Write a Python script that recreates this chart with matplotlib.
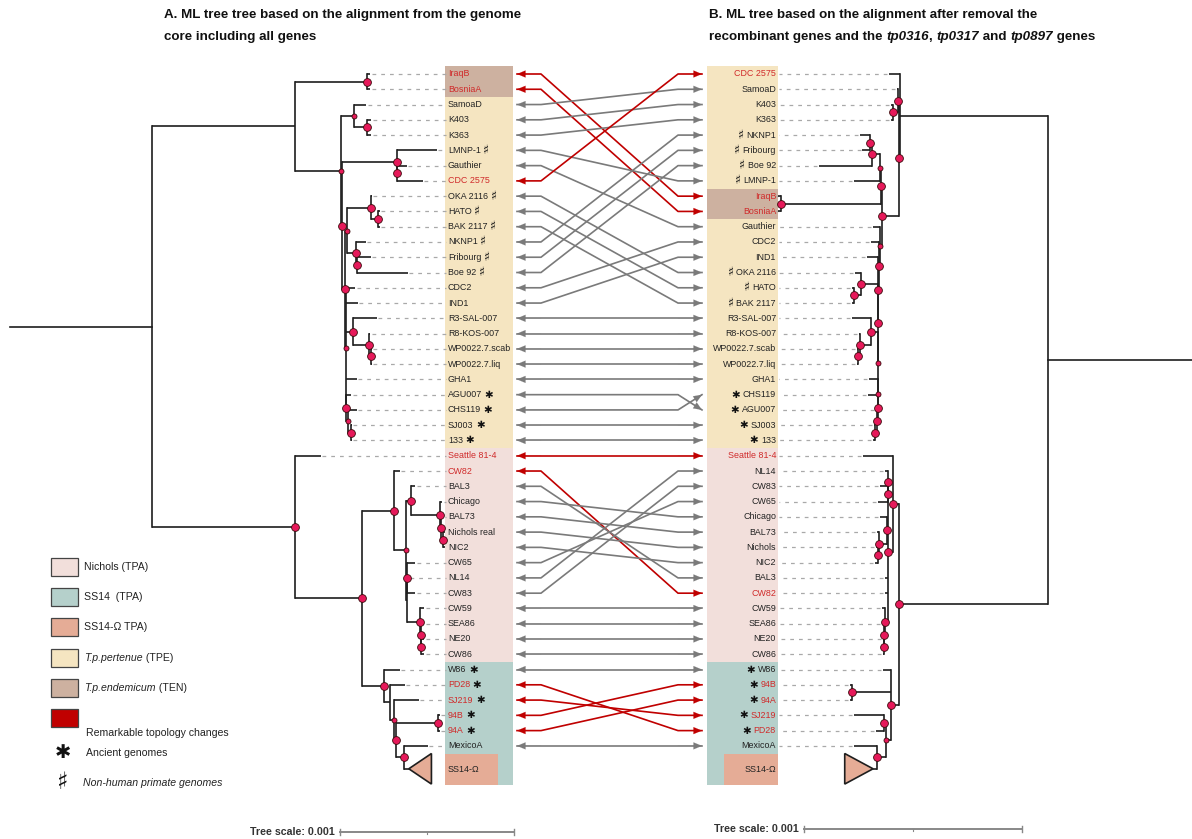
import matplotlib
matplotlib.use("Agg")  # headless
import matplotlib.pyplot as plt
from matplotlib.patches import Rectangle, Polygon

# ---- data ------------------------------------------------------------------
# branch lengths in 1e-5 subs/site (tree scale bar 0.001 = 100 units);
# internal node label = support class (100 -> large dot, 70/80 -> small dot, none -> no dot)
NEWICK_A = (
    "(((IraqB:1.7,BosniaA:1.7)100:41.4,"
    "((SamoaD:6.9,(K403:2.3,K363:2.3)100:7.5)70:7.5,"
    "((LMNP-1:23.0,(Gauthier:5.7,CDC 2575:14.9)100:0.0)100:31.6,"
    "(((OKA 2116:0.6,(HATO:1.1,BAK 2117:1.1)100:4.0)100:13.8,"
    "(NKNP1:5.7,(Fribourg:8.0,Boe 92:29.3)100:0.6)100:5.2)70:1.1,"
    "(CDC2:5.2,IND1:6.9,"
    "(R3-SAL-007:13.8,(R8-KOS-007:0.6,(WP0022.7.scab:0.6,WP0022.7.liq:0.6)100:1.1)100:9.2)100:4.0,"
    "GHA1:6.3,(AGU007:2.9,(CHS119:5.2,(SJ003:0.6,133:0.6)100:1.7)80:1.1)100:0.0)70:0.6"
    ")100:1.7)100:0.6)70:26.4):82.2,"
    "(Seattle 81-4:14.9,("
    "(CW82:3.4,((BAL3:2.3,(Chicago:1.1,(BAL73:1.1,(Nichols:1.1,NIC2:1.1)100:1.1)100:0.6)100:16.7)100:2.9,"
    "((CW65:4.6,NL14:1.1,CW83:4.6)100:0.0,(CW59:2.3,(SEA86:1.7,(NE20:1.7,CW86:1.7)100:0.0)100:0.6)100:7.5):0.6"
    ")70:6.9)100:18.4,"
    "(W86:9.2,(PD28:8.6,(SJ219:14.4,((94B:1.1,94A:1.1)100:24.1,(MexicoA:13.8,SS14-Ω:2.9)100:4.6)100:1.1)70:2.3):3.4)100:12.6"
    ")100:38.5)100:82.2):81.6;"
)
NEWICK_B = (
    "((CDC 2575:5.0,((SamoaD:0.5,(K403:0.9,K363:0.9)100:2.3)100:0.5,"
    "(((((NKNP1:5.0,Fribourg:3.7)100:0.5,Boe 92:24.3)100:3.7,LMNP-1:11.9)70:0.5,"
    "(IraqB:1.4,BosniaA:1.4)100:45.9)100:0.5,"
    "(Gauthier:3.2,(CDC2:3.7,(IND1:5.0,((OKA 2116:2.8,(HATO:0.9,BAK 2117:0.9)100:3.2)100:7.8,"
    "((R3-SAL-007:8.7,(R8-KOS-007:0.5,(WP0022.7.scab:0.5,WP0022.7.liq:0.5)100:0.9)100:5.0)100:3.2,"
    "(GHA1:4.1,(CHS119:4.6,(AGU007:0.5,(SJ003:0.5,133:0.9)100:0.9)100:0.5)100:0.0)70:0.0)70:0.0"
    ")100:0.0)100:0.5)100:0.5)70:0.9)100:7.8)100:0.5):67.9,"
    "((Seattle 81-4:13.8,((NL14:1.4,(CW83:3.7,CW65:4.6)100:0.0)100:0.0,"
    "(Chicago:3.2,(BAL73:0.9,(Nichols:0.9,NIC2:1.4)100:0.5)100:3.7)100:0.5,"
    "BAL3:1.4,CW82:1.4,(CW59:1.4,(SEA86:0.9,(NE20:0.5,CW86:0.5)100:0.0)100:0.5)100:1.4)100:2.3)100:2.8,"
    "(W86:3.7,(94B:0.9,94A:0.9)100:17.9,((SJ219:13.8,PD28:3.7)100:0.9,(MexicoA:10.6,SS14-Ω:1.8)100:4.1)70:2.3)100:3.7"
    ")100:68.3):66.1;"
)
COLLAPSED = {"SS14-Ω": 13.0}          # collapsed clade -> clade depth (units)
SCALE_UNITS = 100                      # 0.001 subs/site
SCALE_LABEL = "Tree scale: 0.001"

TEN_TAXA = ["IraqB", "BosniaA"]
NICHOLS_TAXA = ["Seattle 81-4", "CW82", "BAL3", "Chicago", "BAL73", "Nichols", "NIC2", "CW65",
                "NL14", "CW83", "CW59", "SEA86", "NE20", "CW86"]
SS14_TAXA = ["W86", "PD28", "SJ219", "94B", "94A", "MexicoA"]
ANCIENT = ["AGU007", "CHS119", "SJ003", "133", "W86", "PD28", "SJ219", "94B", "94A"]
NONHUMAN = ["LMNP-1", "OKA 2116", "HATO", "BAK 2117", "NKNP1", "Fribourg", "Boe 92"]
REMARKABLE = ["IraqB", "BosniaA", "CDC 2575", "Seattle 81-4", "CW82", "PD28", "SJ219", "94B", "94A"]
LEFT_DISPLAY = {"Nichols": "Nichols real"}

TITLE_A = ["A. ML tree tree based on the alignment from the genome", "core including all genes"]
TITLE_B1 = "B. ML tree based on the alignment after removal the"
TITLE_B2 = [("recombinant genes and the ", False), ("tp0316", True), (", ", False),
            ("tp0317", True), (" and ", False), ("tp0897", True), (" genes", False)]

LEGEND = [("Nichols (TPA)", None), ("SS14  (TPA)", None), ("SS14-Ω TPA)", None),
          ("T.p.pertenue", " (TPE)"), ("T.p.endemicum", " (TEN)"), ("", None)]

# ---- style -----------------------------------------------------------------
C_TEN, C_TPE, C_NICH, C_SS14, C_OMEGA = "#cdb1a0", "#f5e5c1", "#f2dfdb", "#b5d0cb", "#e5ac96"
RED, LBL_RED, GREY_ARROW = "#c00000", "#d02a2a", "#7a7a7a"
BRANCH = "#1e1e1e"
DOT = "#e6195a"
SANS = ["Liberation Sans", "DejaVu Sans"]
SYM = ["DejaVu Sans"]

W, H = 1192, 839
Y0, ROW = 74.0, 15.27

fig = plt.figure(figsize=(W / 100, H / 100), dpi=100)
ax = fig.add_axes([0, 0, 1, 1])
ax.set_xlim(0, W); ax.set_ylim(H, 0); ax.axis("off")
renderer = fig.canvas.get_renderer()


def parse_newick(s):
    pos = 0

    def read():
        nonlocal pos
        kids = []
        if s[pos] == "(":
            pos += 1
            while True:
                kids.append(read())
                ch = s[pos]; pos += 1
                if ch == ")":
                    break
        start = pos
        while s[pos] not in ":,();":
            pos += 1
        label = s[start:pos]
        length = 0.0
        if s[pos] == ":":
            pos += 1; start = pos
            while s[pos] not in ",();":
                pos += 1
            length = float(s[start:pos])
        return {"label": label, "length": length, "kids": kids}
    return read()


def layout(node, x_parent, px, sign, state):
    node["x"] = x_parent + sign * node["length"] * px
    if node["kids"]:
        for k in node["kids"]:
            layout(k, node["x"], px, sign, state)
        node["y"] = (node["kids"][0]["y"] + node["kids"][-1]["y"]) / 2
    else:
        if node["label"] in COLLAPSED:
            state["i"] += 0.5
        node["y"] = Y0 + state["i"] * ROW
        state["i"] += 1
        state["leaves"].append(node)


def draw_branches(node, dots):
    for k in node["kids"]:
        ax.plot([node["x"], k["x"]], [k["y"], k["y"]], color=BRANCH, lw=1.2, solid_capstyle="butt", zorder=3)
        draw_branches(k, dots)
    if node["kids"]:
        ax.plot([node["x"]] * 2, [node["kids"][0]["y"], node["kids"][-1]["y"]], color=BRANCH, lw=1.2,
                solid_capstyle="projecting", zorder=3)
        if node["label"]:
            dots.append((node["x"], node["y"], 5.6 if node["label"] == "100" else 3.6))


def put_pieces(x, y, pieces, ha="left", **common):
    """pieces: list of (text, dict of text kwargs); laid out side by side from x."""
    seq = pieces if ha == "left" else pieces[::-1]
    cx = x
    for txt, kw in seq:
        t = ax.text(cx, y, txt, ha=ha, va="center", **common, **kw)
        w = t.get_window_extent(renderer).width
        cx = cx + w if ha == "left" else cx - w
    return cx


def group_color(name):
    if name in TEN_TAXA:
        return C_TEN
    if name in NICHOLS_TAXA:
        return C_NICH
    if name in SS14_TAXA or name in COLLAPSED:
        return C_SS14
    return C_TPE


def draw_side(newick, x_start, px, sign, box_x0, box_x1, label_x, leader_end, omega_x0, omega_x1):
    tree = parse_newick(newick)
    state = {"i": 0.0, "leaves": []}
    layout(tree, x_start, px, sign, state)
    leaves = state["leaves"]
    ax.plot([x_start, tree["x"]], [tree["y"], tree["y"]], color=BRANCH, lw=1.2, zorder=3)
    dots = []
    draw_branches(tree, dots)
    ha = "left" if sign > 0 else "right"
    for lf in leaves:
        name, y = lf["label"], lf["y"]
        if name in COLLAPSED:
            ax.add_patch(Rectangle((box_x0, y - ROW), box_x1 - box_x0, 2.05 * ROW, color=group_color(name), lw=0, zorder=1))
            ax.add_patch(Rectangle((omega_x0, y - ROW), omega_x1 - omega_x0, 2.05 * ROW, color=C_OMEGA, lw=0, zorder=1))
            depth = COLLAPSED[name] * px
            ax.add_patch(Polygon([(lf["x"], y), (lf["x"] + sign * depth, y - ROW), (lf["x"] + sign * depth, y + ROW)],
                                 closed=True, fc=C_OMEGA, ec=BRANCH, lw=1.2, zorder=4))
            ax.text(label_x, y + 1, name, ha=ha, va="center", fontsize=6.4, family=SANS, color="#222", zorder=6)
            continue
        ax.add_patch(Rectangle((box_x0, y - ROW / 2), box_x1 - box_x0, ROW, color=group_color(name), lw=0, zorder=1))
        ax.plot([lf["x"] + sign * 1.5, leader_end], [y, y], color="#a9a9a9", lw=0.9,
                linestyle=(0, (3, 4)), zorder=2)
        col = LBL_RED if name in REMARKABLE else "#222222"
        sym = "✱" if name in ANCIENT else ("♯" if name in NONHUMAN else None)
        shown = LEFT_DISPLAY.get(name, name) if sign > 0 else name
        name_kw = dict(color=col, fontsize=6.4, family=SANS)
        sym_kw = dict(color="#111111", fontsize=7.5 if sym == "✱" else 9, family=SYM, fontweight="bold")
        if sign > 0:
            pieces = [(shown, name_kw)] + ([(" ", name_kw), (sym, sym_kw)] if sym else [])
        else:
            pieces = ([(sym, sym_kw), (" ", name_kw)] if sym else []) + [(shown, name_kw)]
        put_pieces(label_x, y, pieces, ha=ha, zorder=6)
    for x, y, ms in dots:
        ax.plot(x, y, "o", ms=ms, mfc=DOT, mec="#3a0a0a", mew=0.6, zorder=5)
    return {lf["label"]: lf["y"] for lf in leaves if lf["label"] not in COLLAPSED}, leaves


PX_A, PX_B = 1.74, 2.18
ys_a, leaves_a = draw_side(NEWICK_A, 10, PX_A, +1, 445, 513, 448, 446, 445, 498)
ys_b, leaves_b = draw_side(NEWICK_B, 1192, PX_B, -1, 707, 778, 776, 779, 724, 778)

# ---- connectors between the two trees ---------------------------------------
order_a = [lf["label"] for lf in leaves_a if lf["label"] not in COLLAPSED]
order_b = [lf["label"] for lf in leaves_b if lf["label"] not in COLLAPSED]
XL_TIP, XL_KNEE, XR_KNEE, XR_TIP = 517, 541, 678, 702
for i, name in enumerate(order_a):
    j = order_b.index(name)
    ya, yb = ys_a[name], ys_b[name]
    col = RED if name in REMARKABLE else GREY_ARROW
    swapped = j != i and order_a[j] == order_b[i]
    if swapped:
        pts = [(XL_TIP, ya), (XR_KNEE, ya), (XR_TIP, yb)]
    else:
        pts = [(XL_TIP, ya), (XL_KNEE, ya), (XR_KNEE, yb), (XR_TIP, yb)]
    ax.plot([p[0] for p in pts], [p[1] for p in pts], color=col, lw=1.2, zorder=3, solid_joinstyle="round")
    for tip, prev in ((pts[0], pts[1]), (pts[-1], pts[-2])):
        ax.annotate("", xy=tip, xytext=prev, zorder=4,
                    arrowprops=dict(arrowstyle="-|>,head_length=0.6,head_width=0.25", mutation_scale=10,
                                    color=col, lw=0.1, shrinkA=0, shrinkB=0))

# ---- titles ----------------------------------------------------------------
tkw = dict(fontsize=9.6, fontweight="bold", family=SANS, color="#111111")
ax.text(164, 15, TITLE_A[0], ha="left", va="center", **tkw)
ax.text(164, 37, TITLE_A[1], ha="left", va="center", **tkw)
ax.text(709, 15, TITLE_B1, ha="left", va="center", **tkw)
put_pieces(709, 37, [(txt, dict(fontstyle="italic") if it else {}) for txt, it in TITLE_B2], **tkw)

# ---- scale bars ------------------------------------------------------------
for x_bar, y_bar, px in ((340, 832, PX_A), (804, 829, PX_B)):
    length = SCALE_UNITS * px
    ax.text(x_bar - 5, y_bar, SCALE_LABEL, ha="right", va="center", fontsize=7.7, fontweight="bold",
            family=SANS, color="#333333")
    ax.plot([x_bar, x_bar + length], [y_bar, y_bar], color="#888888", lw=1.4)
    for xt in (x_bar, x_bar + length):
        ax.plot([xt, xt], [y_bar - 3, y_bar + 3], color="#888888", lw=1.0)
    ax.plot([x_bar + length / 2] * 2, [y_bar, y_bar + 2], color="#888888", lw=0.8)

# ---- legend ----------------------------------------------------------------
legend_colors = [C_NICH, C_SS14, C_OMEGA, C_TPE, C_TEN, RED]
lkw = dict(fontsize=7.6, family=SANS, color="#222222")
for k, ((main, extra), c) in enumerate(zip(LEGEND, legend_colors)):
    yc = 567 + k * 30.2
    ax.add_patch(Rectangle((51, yc - 9), 27, 18, fc=c, ec="#444444", lw=0.9))
    if extra is None:
        ax.text(84, yc, main, ha="left", va="center", **lkw)
    else:
        put_pieces(84, yc, [(main, dict(fontstyle="italic")), (extra, {})], **lkw)
ax.text(86, 733, "Remarkable topology changes", ha="left", va="center", **lkw)
ax.text(63, 752, "✱", ha="center", va="center", fontsize=14, family=SYM, fontweight="bold", color="#111111")
ax.text(86, 753, "Ancient genomes", ha="left", va="center", **lkw)
ax.text(63, 782, "♯", ha="center", va="center", fontsize=17, family=SYM, fontweight="bold", color="#111111")
ax.text(83, 783, "Non-human primate genomes", ha="left", va="center", fontstyle="italic", **lkw)

fig.savefig("out.png", dpi=100)
